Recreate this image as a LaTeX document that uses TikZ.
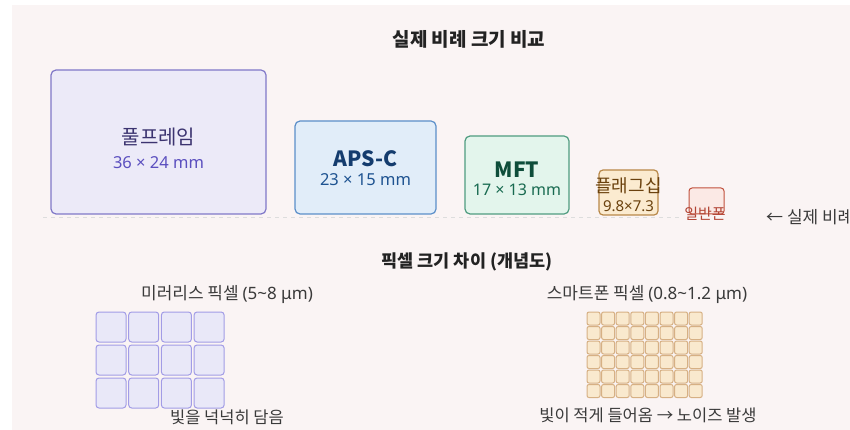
\documentclass[tikz,border=0pt]{standalone}
\usepackage{fontspec}
\setmainfont{Noto Sans CJK KR}
\newfontfamily\lat{Noto Sans}
\definecolor{bgc}{HTML}{FAF4F4}
\definecolor{ttl}{HTML}{222222}
\definecolor{txg}{HTML}{3A3A3A}
\definecolor{ffF}{HTML}{ECEAF8}\definecolor{ffD}{HTML}{8078C8}\definecolor{ffT}{HTML}{3C3470}\definecolor{ffS}{HTML}{5B4FBF}
\definecolor{apF}{HTML}{E1EDF9}\definecolor{apD}{HTML}{5B8FC9}\definecolor{apT}{HTML}{143C6E}\definecolor{apS}{HTML}{1E5391}
\definecolor{mfF}{HTML}{E3F5EC}\definecolor{mfD}{HTML}{4F9C80}\definecolor{mfT}{HTML}{0E4D3A}\definecolor{mfS}{HTML}{186A50}
\definecolor{flF}{HTML}{FBEBD0}\definecolor{flD}{HTML}{B88848}\definecolor{flT}{HTML}{6B420E}
\definecolor{phF}{HTML}{FBE9E5}\definecolor{phD}{HTML}{C0503C}\definecolor{phT}{HTML}{B24434}
\definecolor{dsh}{HTML}{DDDDDD}
\definecolor{glF}{HTML}{E9E8F8}\definecolor{glD}{HTML}{A29CE6}
\definecolor{grF}{HTML}{F9E9CE}\definecolor{grD}{HTML}{D6B084}
\begin{document}
\begin{tikzpicture}[x=1pt,y=-1pt,
  sensor/.style={draw, line width=1.2pt, rounded corners=5pt, inner sep=0pt},
  txt/.style={inner sep=0pt, anchor=center},
  dim/.style={txt, font=\lat\fontsize{16.5}{18}\selectfont},
  cellL/.style={draw=glD, fill=glF, line width=1pt, rounded corners=3pt, minimum width=30pt, minimum height=30pt, inner sep=0pt},
  cellR/.style={draw=grD, fill=grF, line width=1pt, rounded corners=2pt, minimum width=13pt, minimum height=13pt, inner sep=0pt}]
\useasboundingbox (0,0) rectangle (850,430);
\fill[bgc] (12,5) rectangle (850,430);
% title
\node[txt, font=\fontsize{19}{22}\selectfont\bfseries, text=ttl] (t1) at (469,39) {실제 비례 크기 비교};
% baseline
\coordinate (dl) at (43,218);
\coordinate (dr) at (680,218);
\draw[dsh, line width=1pt, dash pattern=on 4pt off 4pt] (dl) -- (dr);
% sensors
\node[sensor, draw=ffD, fill=ffF, minimum width=215pt, minimum height=144pt] (ff) at (158.5,142) {};
\node[txt, font=\fontsize{20}{22}\selectfont, text=ffT] (ffa) at (158.5,137) {풀프레임};
\node[dim, text=ffS] (ffb) at (158.5,163) {36 × 24 mm};
\node[sensor, draw=apD, fill=apF, minimum width=141pt, minimum height=93pt] (ap) at (365.5,167.5) {};
\node[txt, font=\fontsize{21}{24}\selectfont\bfseries, text=apT] (apa) at (365.5,159) {APS-C};
\node[dim, text=apS] (apb) at (365.5,180) {23 × 15 mm};
\node[sensor, draw=mfD, fill=mfF, minimum width=104pt, minimum height=78pt] (mf) at (517,175) {};
\node[txt, font=\fontsize{21}{24}\selectfont\bfseries, text=mfT] (mfa) at (517,170) {MFT};
\node[dim, font=\lat\fontsize{16}{18}\selectfont, text=mfS] (mfb) at (517,190) {17 × 13 mm};
\node[sensor, draw=flD, fill=flF, rounded corners=4pt, minimum width=59pt, minimum height=45pt] (fl) at (628.5,192.5) {};
\node[txt, font=\fontsize{18}{20}\selectfont, text=flT] (fla) at (628.5,186) {플래그십};
\node[txt, font=\lat\fontsize{15}{16}\selectfont, text=flT] (flb) at (628.5,206) {9.8×7.3};
\node[sensor, draw=phD, fill=phF, rounded corners=3pt, line width=1pt, minimum width=35pt, minimum height=26pt] (ph) at (706.5,201) {};
\node[txt, font=\fontsize{15}{16}\selectfont, text=phT] (pha) at (705,214) {일반폰};
\node[txt, anchor=west, font=\fontsize{17}{18}\selectfont, text=txg] (lab) at (766,217) {← 실제 비례};
% section 2
\node[txt, font=\fontsize{17.5}{20}\selectfont\bfseries, text=ttl] (t2) at (467,262) {픽셀 크기 차이 (개념도)};
\node[txt, font=\fontsize{17}{18}\selectfont, text=txg] (lL) at (227,295) {미러리스 픽셀 {\lat(5\textasciitilde 8 μm)}};
\node[txt, font=\fontsize{17}{18}\selectfont, text=txg] (lR) at (647,295) {스마트폰 픽셀 {\lat(0.8\textasciitilde 1.2 μm)}};
\foreach \r in {0,1,2} \foreach \c in {0,1,2,3}
  \node[cellL] (L\r\c) at (111+32.7*\c, 327+33*\r) {};
\foreach \r in {0,...,5} \foreach \c in {0,...,7}
  \node[cellR] (R\r\c) at (593.5+14.6*\c, 318.5+14.5*\r) {};
\node[txt, font=\fontsize{16.5}{18}\selectfont, text=txg] (bL) at (227,417) {빛을 넉넉히 담음};
\node[txt, font=\fontsize{16.5}{18}\selectfont, text=txg] (bR) at (648,415) {빛이 적게 들어옴 → 노이즈 발생};
\end{tikzpicture}
\end{document}
